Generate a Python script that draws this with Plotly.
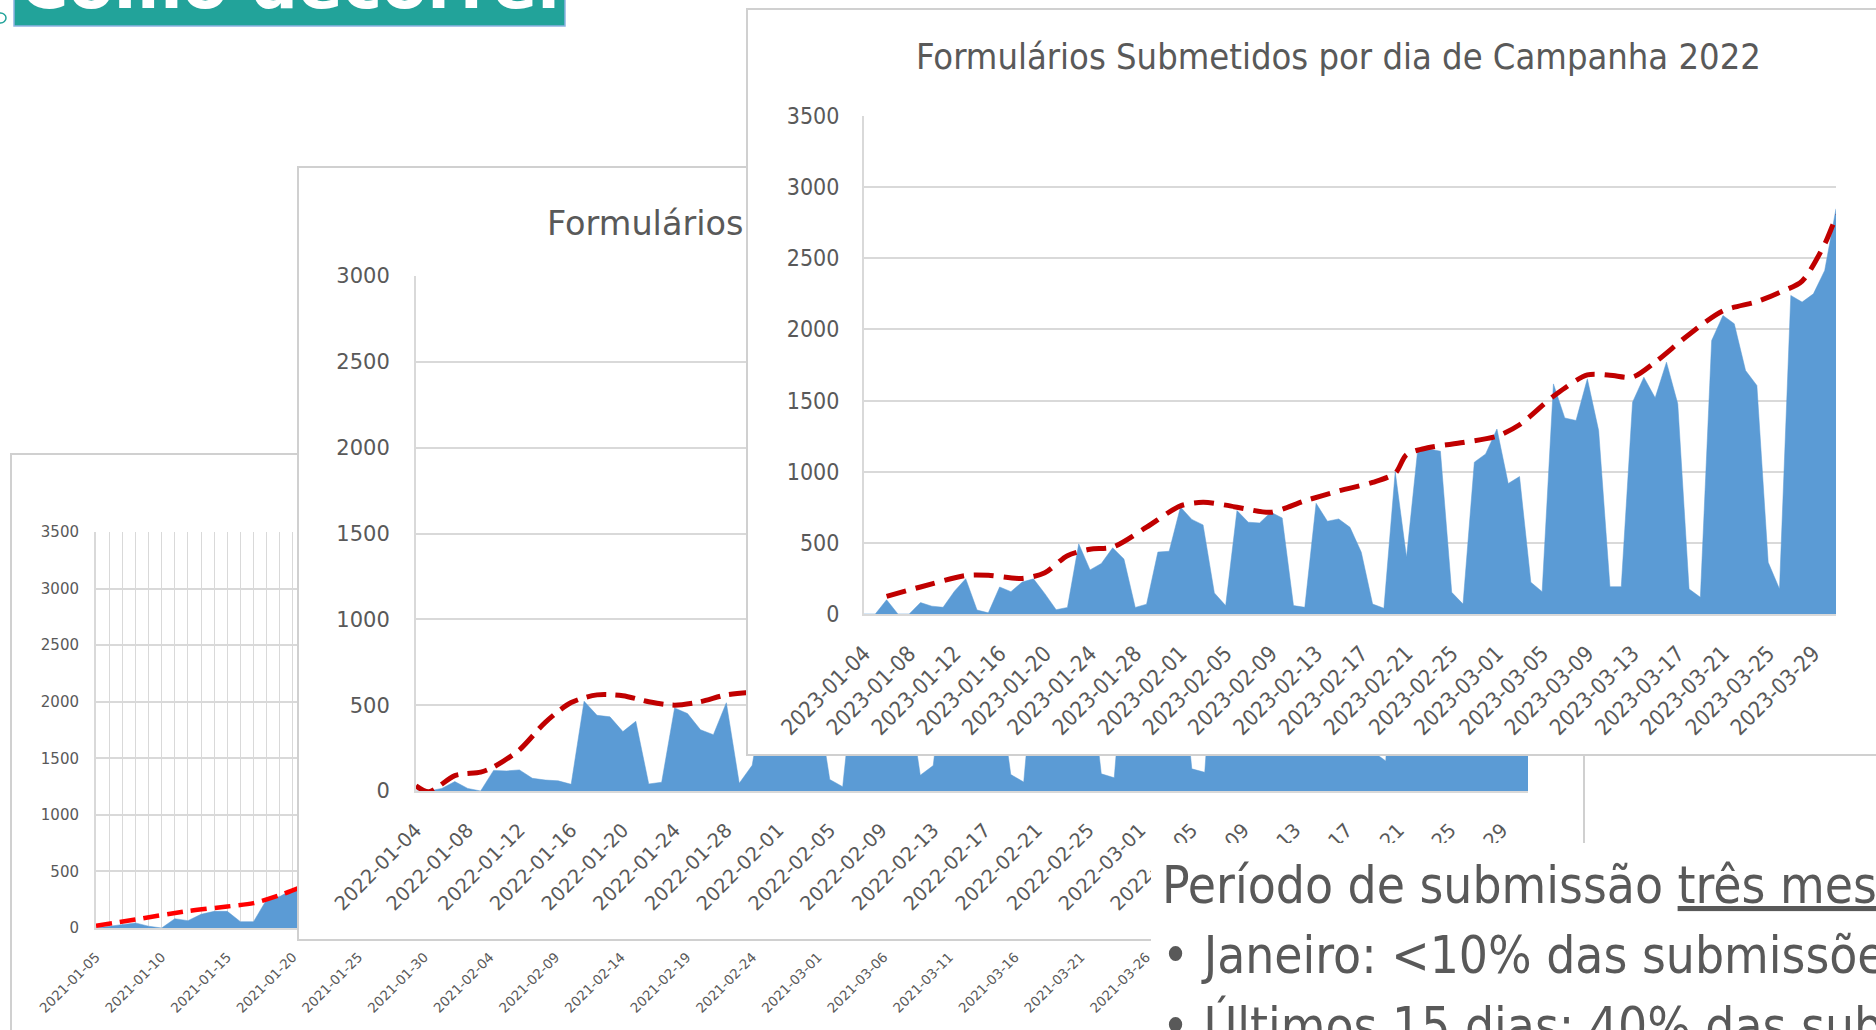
import plotly.graph_objects as go
import pandas as pd

W, H = 1876, 1030

# ---------------- DATA ----------------
# 2021 campaign (back chart) - only the visible first days
inicio_2021 = "2021-01-05"
submissoes_2021 = [0, 16, 26, 45, 16, 0, 82, 65, 121, 147, 147, 56, 56, 252, 278, 343, 380]
tendencia_2021_datas = ["2021-01-05", "2021-01-08", "2021-01-12", "2021-01-15",
                        "2021-01-17", "2021-01-19", "2021-01-21"]
tendencia_2021 = [20, 75, 150, 190, 220, 290, 380]

# 2022 campaign (middle chart)
inicio_2022 = "2022-01-04"
submissoes_2022 = [0, 0, 15, 55, 15, 0, 120, 117, 123, 74, 64, 59, 39, 523, 441, 432, 346, 406,
                   41, 51, 484, 451, 357, 328, 514, 45, 150, 600, 650, 620, 600, 550, 67, 25,
                   750, 700, 680, 650, 600, 92, 148, 800, 780, 750, 720, 650, 96, 52, 900, 880,
                   850, 820, 760, 100, 77, 1000, 1050, 1000, 980, 900, 129, 109, 1200, 1150,
                   1100, 1080, 1000, 300, 280, 1400, 1350, 1300, 1280, 1200, 230, 175, 1700,
                   1650, 1600, 1550, 1500, 400, 350, 2000, 2100, 2300, 2600]
tendencia_2022_datas = ["2022-01-04", "2022-01-05", "2022-01-07", "2022-01-09", "2022-01-10",
                        "2022-01-12", "2022-01-14", "2022-01-16", "2022-01-18", "2022-01-20",
                        "2022-01-22", "2022-01-24", "2022-01-26", "2022-01-28", "2022-01-30"]
tendencia_2022 = [30, -5, 90, 110, 140, 240, 400, 515, 560, 555, 520, 500, 520, 560, 575]

# 2023 campaign (front chart)
inicio_2023 = "2023-01-04"
submissoes_2023 = [0, 0, 100, 0, 0, 80, 55, 47, 160, 248, 28, 8, 190, 157, 225, 247, 143, 30,
                   46, 493, 310, 355, 465, 386, 46, 69, 435, 441, 752, 665, 626, 148, 59, 727,
                   645, 640, 715, 675, 59, 47, 778, 652, 668, 609, 434, 70, 40, 1000, 398, 1160,
                   1160, 1144, 152, 70, 1067, 1125, 1300, 917, 966, 223, 157, 1617, 1378, 1360,
                   1653, 1289, 192, 192, 1489, 1664, 1519, 1770, 1477, 176, 117, 1922, 2098,
                   2040, 1711, 1606, 363, 176, 2239, 2192, 2250, 2414, 2848]
tendencia_2023_datas = ["2023-01-06", "2023-01-09", "2023-01-13", "2023-01-15", "2023-01-18",
                        "2023-01-20", "2023-01-22", "2023-01-24", "2023-01-26", "2023-01-29",
                        "2023-02-01", "2023-02-03", "2023-02-05", "2023-02-07", "2023-02-09",
                        "2023-02-12", "2023-02-15", "2023-02-18", "2023-02-20", "2023-02-21",
                        "2023-02-23", "2023-02-26", "2023-03-01", "2023-03-03", "2023-03-06",
                        "2023-03-09", "2023-03-11", "2023-03-13", "2023-03-15", "2023-03-18",
                        "2023-03-21", "2023-03-24", "2023-03-26", "2023-03-28", "2023-03-30",
                        "2023-03-31", "2023-04-01"]
tendencia_2023 = [124, 190, 270, 272, 250, 290, 410, 455, 470, 610, 760, 785, 765, 735, 715,
                  795, 865, 925, 990, 1120, 1170, 1205, 1250, 1330, 1530, 1680, 1678, 1665,
                  1770, 1965, 2130, 2195, 2260, 2340, 2600, 2780, 2880]

ticks_y_3500 = [0, 500, 1000, 1500, 2000, 2500, 3000, 3500]
ticks_y_3000 = [0, 500, 1000, 1500, 2000, 2500, 3000]

titulo_2023 = "Formulários Submetidos por dia de Campanha 2022"
titulo_2022_visivel = "Formulários"
cabecalho = "Como decorrer"
texto_linhas = ["Período de submissão <u>três meses</u>",
                "•\u00a0Janeiro: &lt;10% das submissões",
                "•\u00a0Últimos 15 dias: 40% das submissões"]

dias_2021 = pd.date_range(inicio_2021, periods=len(submissoes_2021)).strftime("%Y-%m-%d").tolist()
dias_2022 = pd.date_range(inicio_2022, periods=len(submissoes_2022)).strftime("%Y-%m-%d").tolist()
dias_2023 = pd.date_range(inicio_2023, periods=len(submissoes_2023)).strftime("%Y-%m-%d").tolist()

# ---------------- STYLE ----------------
BLUE = "#5B9BD5"
DARKRED = "#C00000"
RED = "#FF0000"
GRID = "#D9D9D9"
BORDER = "#D0D0D0"
TXT = "#595959"
TEAL = "#22A39A"
F_WIDE = "DejaVu Sans, Verdana, sans-serif"
F_NARROW = "DejaVu Sans Condensed, Liberation Sans Narrow, Roboto Condensed, DejaVu Sans, sans-serif"
DAY = 86400000


def dx(a, b):
    return [max(0.0, a / W), min(1.0, b / W)]


def dy(top, bottom):
    return [max(0.0, 1 - bottom / H), min(1.0, 1 - top / H)]


def card_axes(n, xdom, ydom, x_mirror, y_mirror, x_side="bottom"):
    sx = "" if n == 1 else str(n)
    base = dict(range=[0, 1], showgrid=False, zeroline=False, showticklabels=False, ticks="",
                showline=True, linecolor=BORDER, linewidth=2, fixedrange=True, automargin=False)
    xa = dict(base, domain=xdom, anchor="y" + sx, mirror=x_mirror, side=x_side)
    ya = dict(base, domain=ydom, anchor="x" + sx, mirror=y_mirror)
    return {"xaxis" + sx: xa, "yaxis" + sx: ya}


fig = go.Figure()

# empty traces so that every card subplot exists
for n in ["", "3", "5"]:
    fig.add_trace(go.Scatter(x=[], y=[], xaxis="x" + n, yaxis="y" + n, hoverinfo="skip"))

# back chart (2021)
fig.add_trace(go.Scatter(x=dias_2021, y=submissoes_2021, mode="lines", fill="tozeroy",
                         fillcolor=BLUE, line=dict(color=BLUE, width=0.5),
                         xaxis="x2", yaxis="y2", hoverinfo="skip"))
fig.add_trace(go.Scatter(x=tendencia_2021_datas, y=tendencia_2021, mode="lines",
                         line=dict(color=RED, width=4.5, dash="16px,8px", shape="spline", smoothing=0.8),
                         xaxis="x2", yaxis="y2", hoverinfo="skip"))
# middle chart (2022)
fig.add_trace(go.Scatter(x=dias_2022, y=submissoes_2022, mode="lines", fill="tozeroy",
                         fillcolor=BLUE, line=dict(color=BLUE, width=0.5),
                         xaxis="x4", yaxis="y4", hoverinfo="skip"))
fig.add_trace(go.Scatter(x=tendencia_2022_datas, y=tendencia_2022, mode="lines",
                         line=dict(color=DARKRED, width=5, dash="20px,9px", shape="spline", smoothing=0.8),
                         xaxis="x4", yaxis="y4", hoverinfo="skip"))
# front chart (2023)
fig.add_trace(go.Scatter(x=dias_2023, y=submissoes_2023, mode="lines", fill="tozeroy",
                         fillcolor=BLUE, line=dict(color=BLUE, width=0.5),
                         xaxis="x6", yaxis="y6", hoverinfo="skip"))
fig.add_trace(go.Scatter(x=tendencia_2023_datas, y=tendencia_2023, mode="lines",
                         line=dict(color=DARKRED, width=5, dash="20px,10px", shape="spline", smoothing=0.8),
                         xaxis="x6", yaxis="y6", hoverinfo="skip"))

layout = dict(width=W, height=H, autosize=False, margin=dict(l=0, r=0, t=0, b=0, pad=0),
              paper_bgcolor="white", plot_bgcolor="white", showlegend=False)

# cards
layout.update(card_axes(1, dx(12, 1400), dy(455, 1030), False, True, "top"))
layout.update(card_axes(3, dx(299, 1583), dy(168, 939), True, True))
layout.update(card_axes(5, dx(748, 1876), dy(10, 754), True, False))


def chart_axes(n, xdom, ydom, x0, x1, dtick_days, yticks, xfont, yfont, xstand, ystand,
               xfam, yfam, vgrid=False):
    xa = dict(domain=xdom, anchor="y%d" % n, type="date", range=[x0, x1], tick0=x0,
              dtick=dtick_days * DAY, tickformat="%Y-%m-%d", tickangle=-45,
              tickfont=dict(family=xfam, size=xfont, color=TXT), ticks="",
              showgrid=vgrid, gridcolor=GRID, gridwidth=1, zeroline=False,
              showline=True, linecolor=GRID, linewidth=2, ticklabelstandoff=xstand,
              fixedrange=True, automargin=False)
    if vgrid:
        xa["minor"] = dict(dtick=DAY, tick0=x0, showgrid=True, gridcolor=GRID, gridwidth=1)
    ya = dict(domain=ydom, anchor="x%d" % n, range=[0, yticks[-1]], tickvals=yticks,
              tickfont=dict(family=yfam, size=yfont, color=TXT), ticks="",
              showgrid=True, gridcolor=GRID, gridwidth=1.5, zeroline=False,
              showline=True, linecolor=GRID, linewidth=2, ticklabelstandoff=ystand,
              fixedrange=True, automargin=False)
    return {"xaxis%d" % n: xa, "yaxis%d" % n: ya}


layout.update(chart_axes(2, dx(96, 1212), dy(532, 928), "2021-01-05", "2021-03-31", 5,
                         ticks_y_3500, 13.5, 15, 14, 12, F_WIDE, F_WIDE, vgrid=True))
layout.update(chart_axes(4, dx(416, 1528), dy(276, 791), "2022-01-04", "2022-03-31", 4,
                         ticks_y_3000, 19.5, 21, 18, 20, F_WIDE, F_WIDE))
layout.update(chart_axes(6, dx(864, 1836), dy(116, 614), "2023-01-04", "2023-03-31", 4,
                         ticks_y_3500, 22, 23, 16, 18, F_NARROW, F_NARROW))

annotations = [
    dict(text=titulo_2023, x=1338 / W, y=1 - 57 / H, xref="paper", yref="paper",
         xanchor="center", yanchor="middle", showarrow=False,
         font=dict(family=F_NARROW, size=36, color=TXT)),
    dict(text=titulo_2022_visivel, x=746 / W, y=1 - 224 / H, xref="paper", yref="paper",
         xanchor="right", yanchor="middle", showarrow=False,
         font=dict(family=F_WIDE, size=33.5, color=TXT)),
    dict(text=cabecalho, x=18 / W, y=1 - 26 / H, xref="paper", yref="paper",
         xanchor="left", yanchor="bottom", showarrow=False,
         font=dict(family=F_WIDE, size=66, color="white", weight="bold")),
]
for txt, ypx in zip(texto_linhas, [885, 955, 1025]):
    annotations.append(dict(text=txt, x=1160 / W, y=1 - ypx / H, xref="paper", yref="paper",
                            xanchor="left", yanchor="middle", showarrow=False,
                            font=dict(family=F_NARROW, size=51, color=TXT)))
layout["annotations"] = annotations

layout["shapes"] = [
    dict(type="rect", xref="paper", yref="paper", x0=1151 / W, x1=1.01, y0=-0.01, y1=1 - 843 / H,
         fillcolor="white", line=dict(width=0), layer="above"),
    dict(type="rect", xref="paper", yref="paper", x0=14 / W, x1=565 / W, y0=1 - 26 / H, y1=1.05,
         fillcolor=TEAL, line=dict(color="#8DB3E2", width=1.5), layer="above"),
    dict(type="circle", xref="paper", yref="paper", x0=-5 / W, x1=6 / W, y0=1 - 23 / H,
         y1=1 - 13 / H, fillcolor="white", line=dict(color=TEAL, width=1.5), layer="above"),
]

fig.update_layout(**layout)
fig.write_html("out.html", config={"displayModeBar": False},
               post_script="document.body.style.margin='0px';document.body.style.overflow='hidden';")
